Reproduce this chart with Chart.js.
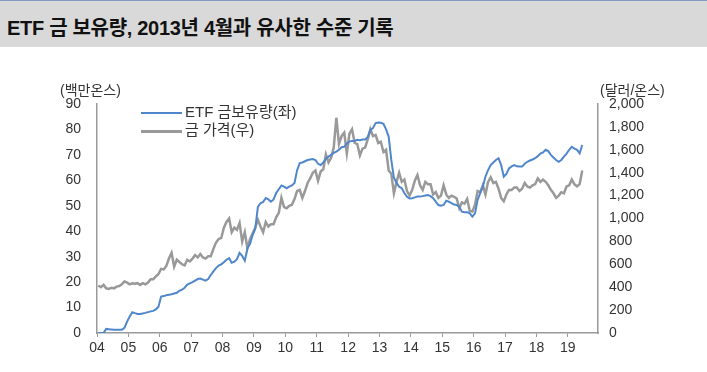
<!DOCTYPE html>
<html>
<head>
<meta charset="utf-8">
<script src="https://cdn.jsdelivr.net/npm/chart.js@4/dist/chart.umd.min.js"></script>
<style>
  html, body { margin: 0; padding: 0; background: #fff; }
  body { width: 707px; height: 372px; position: relative; overflow: hidden;
         font-family: "Liberation Sans", "Noto Sans CJK KR", sans-serif; color: #333; }
  #title { position: absolute; left: 0; top: 0; width: 707px; height: 47px;
           background: #d9d9d9; border-top: 1px solid #7f9cc0; box-sizing: border-box; }
  #title span { position: absolute; left: 7px; top: 11px; font-size: 20px; font-weight: bold;
                color: #111; letter-spacing: -0.3px; }
  #chart-wrap { position: absolute; left: 0; top: 0; width: 707px; height: 372px; }
  .unit { position: absolute; font-size: 14px; color: #333; }
  .legend { position: absolute; left: 141px; font-size: 15px; color: #333; }
  .legend i { display: inline-block; width: 41px; height: 2px; vertical-align: middle; margin-right: 3px; }
</style>
</head>
<body>
<div id="chart-wrap"><canvas id="c" width="707" height="372"></canvas></div>
<div id="title"><span>ETF 금 보유량, 2013년 4월과 유사한 수준 기록</span></div>
<div class="unit" style="left:60px; top:79px;">(백만온스)</div>
<div class="unit" style="left:600px; top:79px;">(달러/온스)</div>
<div class="legend" style="top:100px;"><i style="background:#4f86cc"></i>ETF 금보유량(좌)</div>
<div class="legend" style="top:118px;"><i style="background:#999;height:3px"></i>금 가격(우)</div>
<script>
// monthly points, Jan 2004 .. Jun 2019
const START_YEAR = 2004;
const ETF_LABEL = "ETF 금보유량(좌)";
const GOLD_LABEL = "금 가격(우)";

// ETF gold holdings, million oz
const etfHoldings = [
  0, 0, 0, 1.6, 1.5, 1.4, 1.3, 1.3, 1.3, 1.3, 2.0, 4.5,
  6.5, 8.2, 7.8, 7.5, 7.5, 7.7, 7.9, 8.2, 8.5, 8.7, 9.3, 10.3,
  14.3, 14.5, 14.8, 15.0, 15.2, 15.5, 15.8, 16.6, 17.0, 17.8, 19.0, 19.5,
  20.0, 20.6, 21.2, 21.4, 21.0, 20.6, 21.2, 22.8, 24.2, 25.5, 26.5, 27.0,
  27.8, 28.8, 29.4, 27.6, 28.0, 29.0, 31.5, 30.3, 28.4, 33.3, 35.0, 38.5,
  41.0, 49.6, 51.0, 51.5, 53.0, 52.5, 51.6, 52.5, 55.0, 56.5, 58.0, 57.5,
  56.9, 57.5, 58.0, 59.0, 64.0, 66.8, 67.0, 67.5, 68.0, 68.2, 68.4, 68.0,
  66.5, 66.0, 67.0, 68.5, 69.3, 70.0, 70.8, 71.3, 72.0, 73.0, 73.2, 74.5,
  75.2, 75.5, 75.5, 75.9, 75.8, 76.0, 76.0, 77.0, 79.8, 80.5, 82.5, 82.7,
  82.6, 82.2, 80.0, 77.2, 68.0, 61.0, 59.0, 57.5, 56.9, 55.0, 53.5, 52.9,
  53.0, 53.3, 53.6, 53.6, 53.8, 54.0, 54.2, 53.8, 53.0, 51.6, 50.3, 50.0,
  50.3, 52.0, 51.6, 51.0, 50.5, 50.3, 49.5, 47.7, 47.5, 47.5, 47.0, 45.7,
  47.0, 52.3, 55.0, 57.5, 61.5, 64.0, 66.0, 67.0, 68.0, 68.7, 66.0, 61.4,
  62.5, 64.7, 65.5, 66.0, 65.5, 65.4, 65.4, 66.5, 67.3, 67.8, 68.2, 68.7,
  69.5, 70.5, 71.0, 72.0, 71.5, 70.0, 69.0, 68.0, 67.3, 68.0, 69.3, 70.5,
  72.0, 73.2, 72.5, 72.0, 70.6, 73.9
];

// gold price, USD/oz
const goldPrice = [
  415, 400, 420, 390, 385, 395, 390, 405, 410, 425, 450, 440,
  425, 435, 430, 435, 420, 435, 425, 440, 470, 470, 495, 515,
  560, 555, 585, 650, 700, 580, 640, 620, 600, 590, 640, 625,
  650, 680, 660, 690, 660, 650, 670, 670, 735, 790, 820, 830,
  920, 970, 1000, 880, 920, 900, 960, 800, 880, 740, 820, 870,
  920, 990, 930, 880, 970, 930, 950, 950, 1010, 1050, 1180, 1100,
  1090, 1110, 1120, 1170, 1240, 1250, 1180, 1240, 1310, 1350, 1400, 1420,
  1330, 1410, 1430, 1560, 1490, 1530, 1620, 1880, 1650, 1720, 1750, 1570,
  1740, 1780, 1660, 1650, 1550, 1610, 1620, 1690, 1780, 1720, 1730, 1660,
  1670, 1580, 1600, 1420, 1390, 1220, 1320, 1400, 1320, 1340, 1240, 1200,
  1250, 1330, 1380, 1290, 1250, 1320, 1300, 1300, 1210, 1230, 1180, 1200,
  1290, 1210, 1180, 1200, 1190, 1175, 1090, 1140, 1130, 1170, 1065, 1060,
  1120, 1240, 1230, 1290, 1210, 1320, 1360, 1310, 1320, 1260, 1180, 1150,
  1210, 1250, 1250, 1270, 1270, 1240, 1260, 1310, 1280, 1270, 1290, 1300,
  1350, 1320, 1340, 1320, 1290, 1250, 1220, 1180, 1200, 1230, 1220, 1280,
  1290, 1340, 1300, 1280, 1300, 1420
];

const leftTicks = [0, 10, 20, 30, 40, 50, 60, 70, 80, 90];
const rightTicks = [0, 200, 400, 600, 800, 1000, 1200, 1400, 1600, 1800, 2000];
const yearTicks = [2004, 2005, 2006, 2007, 2008, 2009, 2010, 2011, 2012, 2013, 2014, 2015, 2016, 2017, 2018, 2019];

const toPoints = arr => arr.map((v, i) => ({ x: START_YEAR + (i + 0.5) / 12, y: v }));

const AXIS = "#9a9a9a";
const TICK_FONT = { family: "Liberation Sans", size: 14 };

new Chart(document.getElementById("c"), {
  type: "line",
  data: {
    datasets: [
      { label: ETF_LABEL, data: toPoints(etfHoldings), yAxisID: "y", borderColor: "#4f86cc",
        borderWidth: 2, pointRadius: 0, tension: 0, order: 1 },
      { label: GOLD_LABEL, data: toPoints(goldPrice), yAxisID: "y2", borderColor: "#999999",
        borderWidth: 2.5, pointRadius: 0, tension: 0, order: 2 },
    ],
  },
  options: {
    responsive: false,
    animation: false,
    events: [],
    layout: { padding: { top: 104, left: 0, right: 0, bottom: 0 } },
    plugins: { legend: { display: false }, tooltip: { enabled: false } },
    scales: {
      x: {
        type: "linear", min: 2004, max: 2019.96,
        afterBuildTicks: s => { s.ticks = yearTicks.map(v => ({ value: v })); },
        afterFit: s => { s.height = 39; },
        ticks: { color: "#333", font: TICK_FONT, padding: 3, maxRotation: 0, autoSkip: false,
                 callback: v => String(v % 100).padStart(2, "0") },
        grid: { display: true, drawOnChartArea: false, drawTicks: true, tickLength: 4, color: AXIS },
        border: { display: true, color: AXIS, width: 1.5 },
      },
      y: {
        position: "left", min: 0, max: 90,
        afterBuildTicks: s => { s.ticks = leftTicks.map(v => ({ value: v })); },
        afterFit: s => { s.width = 97; },
        ticks: { color: "#333", font: TICK_FONT, padding: 16 },
        grid: { display: false, drawTicks: false },
        border: { display: true, color: AXIS, width: 1.5 },
      },
      y2: {
        position: "right", min: 0, max: 2000,
        afterBuildTicks: s => { s.ticks = rightTicks.map(v => ({ value: v })); },
        afterFit: s => { s.width = 109; },
        ticks: { color: "#333", font: TICK_FONT, padding: 11,
                 callback: v => v.toLocaleString("en-US") },
        grid: { display: false, drawTicks: false },
        border: { display: true, color: AXIS, width: 1.5 },
      },
    },
  },
});
</script>
</body>
</html>
